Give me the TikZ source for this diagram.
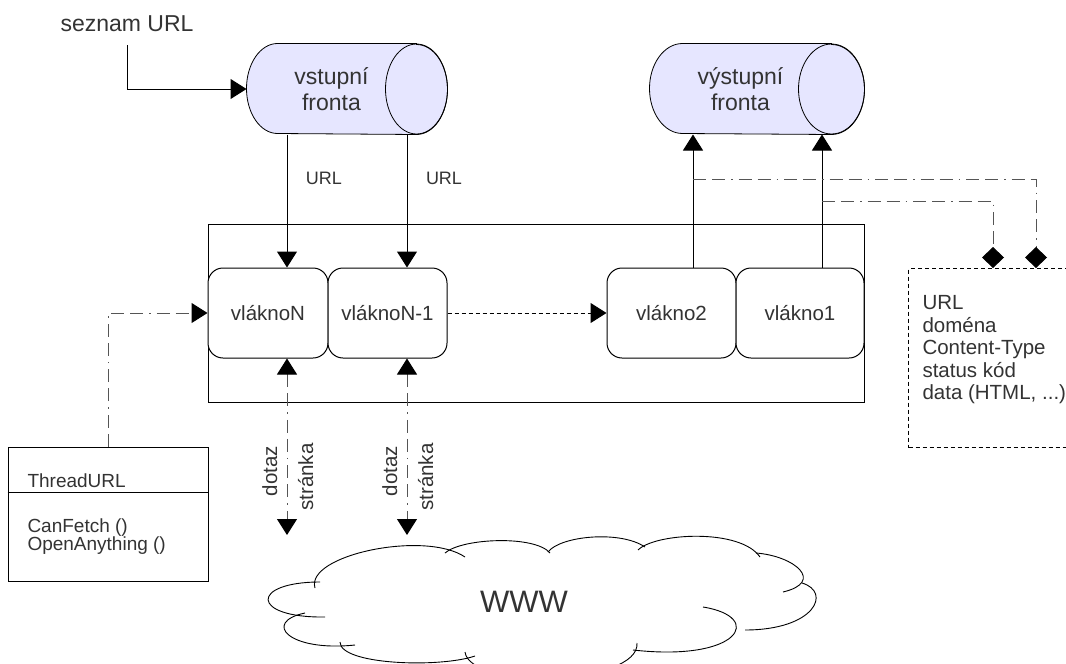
\documentclass[tikz,border=0pt]{standalone}
\usepackage{fontspec}
\setmainfont{Liberation Sans}
\usetikzlibrary{arrows.meta,calc}
\definecolor{ink}{HTML}{333333}
\definecolor{queue}{HTML}{E6E6FF}
\definecolor{link}{HTML}{555555}
\tikzset{
  every node/.style={text=ink, inner sep=0pt},
  fa/.style={font=\fontsize{23}{26}\selectfont},
  fb/.style={font=\fontsize{20.5}{22.5}\selectfont},
  fc/.style={font=\fontsize{18}{20}\selectfont},
  fd/.style={font=\fontsize{19}{18}\selectfont},
  thread/.style={draw=black, fill=white, rounded corners=15pt, minimum height=90pt, fb},
  linkline/.style={draw=link, dash pattern=on 13pt off 6pt on 13pt off 6pt on 1.5pt off 6pt},
  dotline/.style={dash pattern=on 4pt off 3pt},
  >={Triangle[length=16pt,width=20pt,color=black]},
  diam/.tip={Diamond[length=21pt,width=22pt,color=black]},
}
\begin{document}
\begin{tikzpicture}[x=1pt,y=-1pt,line width=1pt]
\useasboundingbox (0,0) rectangle (1066,664);
\clip (0,0) rectangle (1066,664);

% queues: body node, then the cylinder outline around it, then its label
\node[minimum width=169pt, minimum height=90pt] (inq) at (331.5,89) {};
\node[minimum width=181pt, minimum height=90pt] (outq) at (740.5,89) {};
\foreach \q/\r in {inq/31,outq/33}{
  \draw[fill=queue, line width=0.8pt] (\q.north east) -- ($(\q.north west)+(\r,0)$)
    arc[start angle=90, end angle=270, x radius=\r pt, y radius=45pt]
    -- (\q.south east)
    arc[start angle=-90, end angle=90, x radius=\r pt, y radius=45pt] -- cycle;
  \draw[line width=0.8pt] (\q.east) ellipse[x radius=\r pt, y radius=45pt];
}
\node[fa, align=center] (inqlabel) at (inq) {vstupní\\fronta};
\node[fa, align=center] (outqlabel) at (outq) {výstupní\\fronta};

% source list
\node[fa, anchor=base] (src) at (127,31) {seznam URL};
\draw[->] ([yshift=-14pt]src.base) |- (inq.west);

% thread pool
\node[draw, minimum width=656pt, minimum height=178pt] (pool) at (536,313) {};
\node[thread, minimum width=120pt] (vN)  at (268,313)   {vláknoN};
\node[thread, minimum width=119pt] (vN1) at (387.5,313) {vláknoN-1};
\node[thread, minimum width=129pt] (v2)  at (671.5,313) {vlákno2};
\node[thread, minimum width=128pt] (v1)  at (800,313)   {vlákno1};

\coordinate (pN)  at ([xshift=19pt]vN.north);
\coordinate (pN1) at ([xshift=19.5pt]vN1.north);
\coordinate (p2)  at ([xshift=21.5pt]v2.north);
\coordinate (p1)  at ([xshift=22pt]v1.north);

% input queue -> threads
\draw[->] (inq.south -| pN) -- (pN);
\draw[->] (inq.south -| pN1) -- (pN1);
\node[fc, anchor=base] (u1) at (324,184) {URL};
\node[fc, anchor=base] (u2) at (444,184) {URL};

% threads -> output queue
\draw[->] (p2) -- (outq.south -| p2);
\draw[->] (p1) -- (outq.south -| p1);

% passing work between threads
\draw[dotline, ->] (vN1.east) -- (v2.west);

% record fields
\node[draw, dotline, minimum width=190pt, minimum height=179pt, anchor=north west] (info) at (908,268) {};
\node[fb, align=left, anchor=north west] (fields) at (922,295)
  {URL\\doména\\Content-Type\\status kód\\data (HTML, ...)};
\coordinate (r1) at (0,179);
\coordinate (r2) at (0,201);
\draw[linkline, -diam] (p2 |- r1) -| ([xshift=128pt]info.north west);
\draw[linkline, -diam] (p1 |- r2) -| ([xshift=85pt]info.north west);

% thread class
\node[draw, minimum width=200pt, minimum height=134pt] (cls) at (108,514) {};
\coordinate (sep) at (0,492);
\draw (cls.west |- sep) -- (cls.east |- sep);
\node[fd, anchor=base west] (clsname) at (27,487) {ThreadURL};
\node[fd, anchor=north west, align=left] (ops) at (27,518) {CanFetch ()\\OpenAnything ()};
\draw[linkline, ->] (cls.north) |- (vN.west);

% requests to the web
\coordinate (wN)  at (287,535);
\coordinate (wN1) at (407,535);
\draw[linkline, <->] (pN |- vN.south) -- (wN);
\draw[linkline, <->] (pN1 |- vN1.south) -- (wN1);
\node[fb, rotate=90, anchor=base] (q1) at (277,471) {dotaz};
\node[fb, rotate=90, anchor=base] (a1) at (313,477) {stránka};
\node[fb, rotate=90, anchor=base] (q2) at (397,471) {dotaz};
\node[fb, rotate=90, anchor=base] (a2) at (433,477) {stránka};

% the web
\begin{scope}[line width=0.9pt]
\draw (315,588) .. controls (305,555) and (425,530) .. (465,557);
\draw (445,553) .. controls (462,538) and (535,535) .. (550,553);
\draw (548,552) .. controls (560,536) and (620,530) .. (645,547);
\draw (638,550) .. controls (655,533) and (740,528) .. (760,557);
\draw (756,553) .. controls (795,556) and (825,582) .. (783,592);
\draw (802,583) .. controls (832,592) and (815,630) .. (745,630);
\draw (703,607) .. controls (765,617) and (740,662) .. (633,650);
\draw (637,643) .. controls (640,685) and (470,690) .. (465,652);
\draw (475,656) .. controls (440,668) and (340,665) .. (340,642);
\draw (305,613) .. controls (262,622) and (288,652) .. (355,645);
\draw (320,582) .. controls (250,582) and (250,618) .. (325,617);
\end{scope}
\node[font=\fontsize{31}{31}\selectfont] (www) at (524,602) {WWW};
\end{tikzpicture}
\end{document}
